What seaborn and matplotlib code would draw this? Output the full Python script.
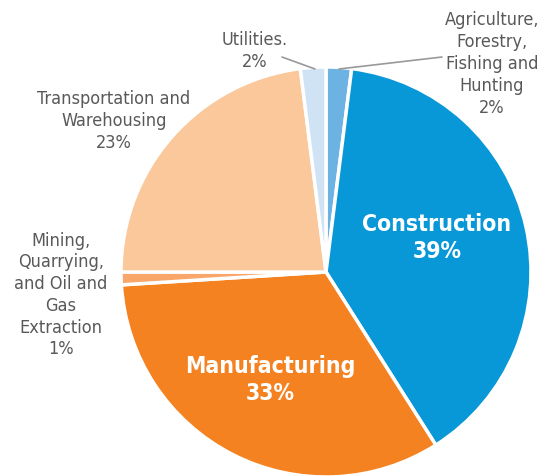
import matplotlib
matplotlib.use("Agg")
import matplotlib.pyplot as plt
import seaborn as sns

sectors = ["Agriculture,\nForestry,\nFishing and\nHunting", "Construction", "Manufacturing",
           "Mining,\nQuarrying,\nand Oil and\nGas\nExtraction", "Transportation and\nWarehousing", "Utilities."]
shares = [2, 39, 33, 1, 23, 2]
colors = ["#6CB2E2", "#0897D7", "#F58220", "#F8A66A", "#FBC89B", "#CFE3F5"]

sns.set_theme(style="white")
plt.rcParams['font.family'] = ['DejaVu Sans']
plt.rcParams['font.stretch'] = 'condensed'

fig = plt.figure(figsize=(5.48, 4.76), dpi=100)
ax = fig.add_axes([0, 0, 1, 1])
pal = sns.color_palette(colors)

# pie in pixel coordinates, y flipped
cx, cy, r = 326, 476 - 272, 205
ax.pie(shares, colors=pal, startangle=90, counterclock=False, center=(cx, cy), radius=r,
       wedgeprops=dict(edgecolor="white", linewidth=2.5))
ax.set_xlim(0, 548)
ax.set_ylim(0, 476)
ax.set_aspect("equal")
ax.axis("off")

gray = "#595959"
fs = 13
ls = 1.27
lbl = [f"{s}\n{v}%" for s, v in zip(sectors, shares)]

ax.text(492, 476 - 64, lbl[0], ha="center", va="center", fontsize=fs, color=gray, linespacing=ls)
ax.text(437, 476 - 238, lbl[1], ha="center", va="center", fontsize=16.5, color="white",
        fontweight="bold", linespacing=1.27)
ax.text(270, 476 - 380, lbl[2], ha="center", va="center", fontsize=16.5, color="white",
        fontweight="bold", linespacing=1.27)
ax.text(61, 476 - 295, lbl[3], ha="center", va="center", fontsize=fs, color=gray, linespacing=ls)
ax.text(114, 476 - 121, lbl[4], ha="center", va="center", fontsize=fs, color=gray, linespacing=ls)
ax.text(255, 476 - 51, lbl[5], ha="center", va="center", fontsize=fs, color=gray, linespacing=ls)

# leader lines
ax.plot([339, 442], [476 - 69, 476 - 57], color="#999999", lw=1.2)
ax.plot([282, 315], [476 - 57, 476 - 69], color="#999999", lw=1.2)

fig.savefig("out.png", dpi=100)
